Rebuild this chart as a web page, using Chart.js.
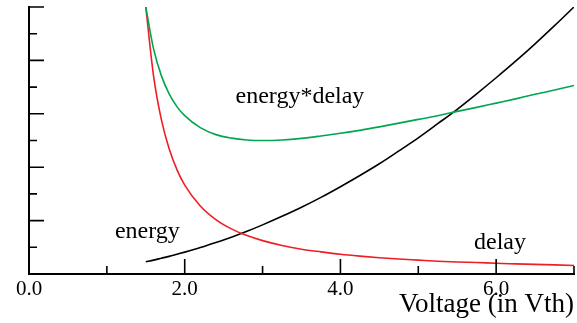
<!DOCTYPE html>
<html>
<head>
  <title>energy / delay</title>
  <script src="https://cdn.jsdelivr.net/npm/chart.js@4"></script>
  <style>
    body { margin: 0; background: #fff; }
    #wrap { width: 577px; height: 323px; position: relative; }
  </style>
</head>
<body>
<div id="wrap"><canvas id="chart"></canvas></div>

<script>
// supply voltage (in Vth)
var voltages = [1.5, 1.6, 1.7, 1.8, 1.9, 2.0, 2.2, 2.4, 2.6, 2.8, 3.0, 3.25, 3.5, 3.75, 4.0,
  4.25, 4.5, 4.75, 5.0, 5.25, 5.5, 5.75, 6.0, 6.25, 6.5, 6.75, 7.0]
// (y axis has no labels, 0..10 units)
var energy = [0.46, 0.52, 0.59, 0.66, 0.74, 0.82, 0.99, 1.18, 1.38, 1.60, 1.84, 2.16, 2.50, 2.87, 3.27,
  3.69, 4.13, 4.61, 5.10, 5.63, 6.17, 6.75, 7.35, 7.97, 8.62, 9.30, 10.0]
var delay = [10.0, 7.41, 5.78, 4.69, 3.91, 3.33, 2.55, 2.04, 1.69, 1.44, 1.25, 1.07, 0.93, 0.83, 0.74,
  0.67, 0.61, 0.56, 0.52, 0.48, 0.45, 0.43, 0.40, 0.38, 0.36, 0.34, 0.32]
var energyDelay = [10.0, 8.43, 7.43, 6.75, 6.27, 5.93, 5.48, 5.22, 5.09, 5.02, 5.00, 5.02, 5.08, 5.17, 5.27,
  5.38, 5.51, 5.65, 5.79, 5.93, 6.09, 6.24, 6.40, 6.56, 6.73, 6.89, 7.06]

var curveLabels = ["energy*delay", "energy", "delay"]
var labelAt = [[3.48, 6.63], [1.52, 1.58], [6.05, 1.17]]

function pts(ys){
  var out = []
  for(i=0;i<voltages.length;i++){
    out.push({x: voltages[i], y: ys[i]})
  }
  return out
}

var serif = '"Liberation Serif", "Times New Roman", serif'

//inward tick marks + curve names
var marks = {
  id: "marks",
  afterDraw: function(chart){
    var ctx = chart.ctx, xs = chart.scales.x, ys = chart.scales.y
    var a = chart.chartArea
    ctx.save()
    ctx.strokeStyle = "#000"
    ctx.lineWidth = 1.6
    ctx.beginPath()
    for(v=1;v<=7;v++){
      var px = xs.getPixelForValue(v)
      var len = (v % 2 == 0) ? 15 : 8
      ctx.moveTo(px, a.bottom)
      ctx.lineTo(px, a.bottom - len)
    }
    for(v=0;v<=10;v++){
      var py = ys.getPixelForValue(v)
      var len = (v % 2 == 0) ? 15 : 8
      ctx.moveTo(a.left, py)
      ctx.lineTo(a.left + len, py)
    }
    ctx.stroke()

    ctx.fillStyle = "#000"
    ctx.font = "24px " + serif
    ctx.textAlign = "center"
    ctx.textBaseline = "middle"
    for(i=0;i<curveLabels.length;i++){
      ctx.fillText(curveLabels[i], xs.getPixelForValue(labelAt[i][0]), ys.getPixelForValue(labelAt[i][1]))
    }
    ctx.restore()
  }
}

new Chart(document.getElementById("chart").getContext("2d"), {
  type: "line",
  data: {
    datasets: [
      {label: "energy*delay", data: pts(energyDelay), borderColor: "rgb(0,166,80)"},
      {label: "delay", data: pts(delay), borderColor: "rgb(238,30,36)"},
      {label: "energy", data: pts(energy), borderColor: "#000"}
    ]
  },
  options: {
    responsive: true,
    maintainAspectRatio: false,
    animation: false,
    layout: {padding: {top: 7, right: 2, left: 0, bottom: 0}},
    elements: {
      point: {radius: 0},
      line: {borderWidth: 1.6, cubicInterpolationMode: "monotone", fill: false}
    },
    plugins: {legend: {display: false}, tooltip: {enabled: false}},
    scales: {
      x: {
        type: "linear",
        min: 0, max: 7,
        afterFit: function(s){ s.height = 49 },
        grid: {display: false, drawTicks: false},
        border: {display: true, color: "#000", width: 2},
        ticks: {
          stepSize: 1,
          padding: 3,
          color: "#000",
          font: {family: serif, size: 21},
          maxRotation: 0,
          autoSkip: false,
          callback: function(v){ return v % 2 == 0 ? v.toFixed(1) : "" }
        },
        title: {
          display: true,
          text: "Voltage (in Vth)",
          align: "end",
          color: "#000",
          font: {family: serif, size: 27},
          padding: {top: 0, bottom: 2}
        }
      },
      y: {
        min: 0, max: 10,
        afterFit: function(s){ s.width = 29 },
        grid: {display: false, drawTicks: false},
        border: {display: true, color: "#000", width: 2},
        ticks: {display: false}
      }
    }
  },
  plugins: [marks]
})
</script>
</body>
</html>
